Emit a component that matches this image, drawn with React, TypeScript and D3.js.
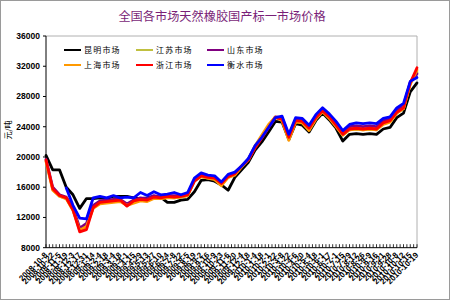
import React from "react";
import * as d3 from "d3";

const title = "全国各市场天然橡胶国产标一市场价格";
const yTitle = "元/吨";
const yTicks = [8000, 12000, 16000, 20000, 24000, 28000, 32000, 36000];

const dates = [
  "2008-10-8", "2008-10-22", "2008-11-5", "2008-11-19", "2008-12-3", "2008-12-17", "2008-12-31",
  "2009-1-14", "2009-2-4", "2009-2-18", "2009-3-4", "2009-3-18", "2009-4-1", "2009-4-15",
  "2009-4-29", "2009-5-13", "2009-5-27", "2009-6-10", "2009-6-24", "2009-7-8", "2009-7-22",
  "2009-8-5", "2009-8-19", "2009-9-2", "2009-9-16", "2009-10-9", "2009-10-23", "2009-11-6",
  "2009-11-20", "2009-12-4", "2009-12-18", "2010-1-4", "2010-1-18", "2010-2-1", "2010-2-22",
  "2010-3-8", "2010-3-22", "2010-4-6", "2010-4-20", "2010-5-4", "2010-5-18", "2010-6-1",
  "2010-6-17", "2010-7-1", "2010-7-15", "2010-7-29", "2010-8-12", "2010-8-26", "2010-9-9",
  "2010-9-16", "2010-9-21", "2010-9-28", "2010-10-8", "2010-10-12", "2010-10-15", "2010-10-19",
];

const kunming = [20200,18300,18300,16000,15000,13200,14500,14500,14600,14500,14800,14800,14800,14600,14500,14600,14800,14700,14000,14000,14300,14400,15400,16900,17000,16800,16300,15600,17300,18300,19300,20900,22000,23300,24700,24600,22300,24400,24200,23300,24800,25800,24900,23800,22100,23000,23100,23000,23100,23000,23700,23900,25200,25800,28600,29800];
const jiangsu = [19500,15700,14800,14500,13000,10500,11000,13300,13900,14000,14100,14200,13700,14000,14300,14200,14600,14500,14700,14600,14700,14900,16800,17400,17200,17100,16300,17300,17700,18700,19600,21300,22700,24000,25200,24900,22400,24700,24600,23600,25100,26000,25200,24100,22900,23600,23700,23600,23700,23600,24400,24700,25800,26400,29700,31200];
const shandong = [19700,16000,15000,14700,13300,10600,11200,13600,14200,14300,14400,14400,13800,14300,14600,14500,14900,14700,14900,14900,14900,15100,17000,17700,17400,17300,16600,17500,17900,18800,19700,21400,22600,24000,25300,25200,22800,25000,24900,24000,25400,26300,25500,24400,23200,24000,24100,24000,24100,24000,24800,25000,26200,26800,29900,31000];
const shanghai = [19400,15600,14800,14500,12900,10300,10800,13200,13800,13900,14000,14100,13600,13900,14200,14100,14500,14500,14600,14600,14700,14900,16900,17400,17200,17000,16200,17300,17600,18700,19700,21500,22900,24300,25300,24800,22200,24600,24500,23500,25000,26000,25100,24000,22900,23600,23700,23600,23700,23600,24300,24600,25800,26400,29600,31500];
const zhejiang = [19600,15800,14900,14600,13000,10100,10400,13300,14000,14100,14200,14300,13500,14200,14400,14300,14700,14600,14800,14700,14800,15000,16800,17500,17300,17200,16500,17400,17800,18800,19600,21200,22500,23900,25200,25000,22600,24800,24700,23800,25200,26100,25300,24200,23000,23700,23800,23700,23800,23700,24500,24800,25900,26500,29800,31800];
const hengshui = [null,null,null,15900,13600,11900,11800,14600,14800,14600,14900,14600,14700,14600,15300,14900,15400,15000,15100,15300,15000,15300,17200,17900,17600,17500,16700,17700,18000,18800,19800,21500,22600,23900,25200,25400,23000,25200,25100,24200,25600,26500,25700,24700,23500,24300,24500,24400,24500,24400,25100,25300,26500,27100,30000,30500];

const seriesNames = ["昆明市场", "江苏市场", "山东市场", "上海市场", "浙江市场", "衡水市场"];
const seriesValues: (number | null)[][] = [kunming, jiangsu, shandong, shanghai, zhejiang, hengshui];
const seriesColors = ["#000000", "#c0c040", "#800080", "#ff9900", "#ff0000", "#0000ff"];

export default function App() {
  const W = 450, H = 300;
  const left = 46, right = 417, top = 36, bottom = 247.7;
  const x = d3.scalePoint<string>().domain(dates).range([left, right]);
  const y = d3.scaleLinear().domain([8000, 36000]).range([bottom, top]);
  const step = x.step();

  const line = d3
    .line<number | null>()
    .defined((d) => d != null)
    .x((_, i) => x(dates[i]) as number)
    .y((d) => y(d as number));

  const tickXs: number[] = [];
  for (let i = 0; i < dates.length * 2 - 1; i++) tickXs.push(left + (i * step) / 2);

  const legendCols = [64, 136, 207];
  const legendRows = [50, 65];

  return (
    <svg width={W} height={H} style={{ position: "absolute", left: 0, top: 0, background: "#fff" }}
      fontFamily="'Liberation Sans', Arial, sans-serif">
      <rect x={0.5} y={0.5} width={W - 1} height={H - 1} fill="#fff" stroke="#9a9a9a" />
      <text x={222} y={21} textAnchor="middle" fontFamily="'Noto Sans CJK SC', sans-serif" fontSize={12.2} fill="#7a1f78">
        {title}
      </text>

      {/* plot frame */}
      <line x1={left} x2={right} y1={top} y2={top} stroke="#b0b0b0" />
      <line x1={right} x2={right} y1={top} y2={bottom} stroke="#b0b0b0" />
      <line x1={left} x2={left} y1={top} y2={bottom} stroke="#000" />
      <line x1={left} x2={right} y1={bottom} y2={bottom} stroke="#000" />

      {yTicks.map((t) => (
        <g key={t}>
          <line x1={left - 3} x2={left} y1={y(t)} y2={y(t)} stroke="#000" />
          <text x={40} y={y(t) + 3} textAnchor="end" fontSize={8.5} fontWeight="bold" fill="#000">
            {t}
          </text>
        </g>
      ))}

      {tickXs.map((tx, i) => (
        <line key={i} x1={tx} x2={tx} y1={bottom} y2={bottom - 3.5} stroke="#000" strokeWidth={0.8} />
      ))}

      {dates.map((d) => (
        <text key={d} transform={`translate(${(x(d) as number) + 2},${bottom + 8}) rotate(-45)`}
          textAnchor="end" fontSize={8} fontWeight="bold" fill="#000">
          {d}
        </text>
      ))}

      <text transform="translate(11,130) rotate(-90)" textAnchor="middle" fontSize={8}
        fontFamily="'Noto Sans CJK SC', sans-serif" fill="#000">
        {yTitle}
      </text>

      {seriesValues.map((vals, si) => (
        <path key={si} d={line(vals) || ""} fill="none" stroke={seriesColors[si]} strokeWidth={2.8}
          strokeLinejoin="round" strokeLinecap="round" />
      ))}

      {seriesNames.map((name, si) => {
        const cx = legendCols[si % 3];
        const cy = legendRows[Math.floor(si / 3)];
        return (
          <g key={name}>
            <line x1={cx} x2={cx + 17} y1={cy} y2={cy} stroke={seriesColors[si]} strokeWidth={2} />
            <text x={cx + 20} y={cy + 3} fontSize={8} letterSpacing={1.2}
              fontFamily="'Noto Sans CJK SC', sans-serif" fill="#000">
              {name}
            </text>
          </g>
        );
      })}
    </svg>
  );
}
